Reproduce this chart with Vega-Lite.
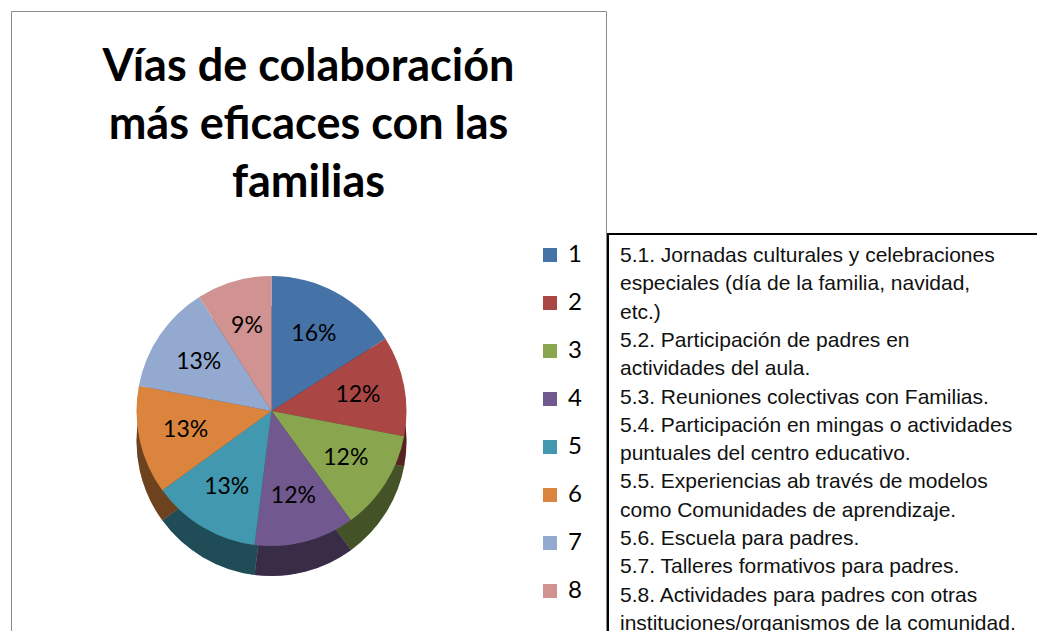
{
  "$schema": "https://vega.github.io/schema/vega-lite/v6.json",
  "padding": {"left": 10, "top": 10, "right": 0, "bottom": 0},
  "background": "white",
  "spacing": 0,
  "config": {"font": "Lato", "concat": {"spacing": 0}},
  "datasets": {
    "slices": [
      {"via": "1", "pct": 0.16},
      {"via": "2", "pct": 0.12},
      {"via": "3", "pct": 0.12},
      {"via": "4", "pct": 0.12},
      {"via": "5", "pct": 0.13},
      {"via": "6", "pct": 0.13},
      {"via": "7", "pct": 0.13},
      {"via": "8", "pct": 0.09}
    ],
    "lines": [
      {"n": 1, "col": "t", "texto": "5.1. Jornadas culturales y celebraciones"},
      {"n": 2, "col": "t", "texto": "especiales (día de la familia, navidad,"},
      {"n": 3, "col": "t", "texto": "etc.)"},
      {"n": 4, "col": "t", "texto": "5.2. Participación de padres en"},
      {"n": 5, "col": "t", "texto": "actividades del aula."},
      {"n": 6, "col": "t", "texto": "5.3. Reuniones colectivas con Familias."},
      {"n": 7, "col": "t", "texto": "5.4. Participación en mingas o actividades"},
      {"n": 8, "col": "t", "texto": "puntuales del centro educativo."},
      {"n": 9, "col": "t", "texto": "5.5. Experiencias ab través de modelos"},
      {"n": 10, "col": "t", "texto": "como Comunidades de aprendizaje."},
      {"n": 11, "col": "t", "texto": "5.6. Escuela para padres."},
      {"n": 12, "col": "t", "texto": "5.7. Talleres formativos para padres."},
      {"n": 13, "col": "t", "texto": "5.8. Actividades para padres con otras"},
      {"n": 14, "col": "t", "texto": "instituciones/organismos de la comunidad."}
    ]
  },
  "hconcat": [
    {
      "width": 595,
      "height": 800,
      "view": {"stroke": "#8c8c8c", "strokeWidth": 1},
      "title": {
        "text": ["Vías de colaboración", "más eficaces con las", "familias"],
        "font": "Lato",
        "fontSize": 45,
        "fontWeight": "bold",
        "lineHeight": 58,
        "anchor": "middle",
        "offset": -195,
        "color": "black"
      },
      "data": {"name": "slices"},
      "encoding": {
        "theta": {"field": "pct", "type": "quantitative", "stack": true},
        "order": {"field": "via", "type": "ordinal"}
      },
      "layer": [
        {
          "mark": {"type": "arc", "outerRadius": 135, "xOffset": -37, "yOffset": 30},
          "encoding": {
            "color": {"field": "via", "type": "nominal",
              "scale": {"domain": ["1","2","3","4","5","6","7","8"],
                "range": ["#4572A7","#AA4643","#89A54E","#71588F","#4198AF","#DB843D","#93A9CF","#D19392"]},
              "legend": {
                "orient": "none", "legendX": 527, "legendY": 232, "title": null,
                "symbolType": "square", "symbolSize": 196, "symbolStrokeWidth": 0,
                "labelFont": "Lato", "labelFontSize": 24, "labelColor": "black",
                "rowPadding": 24, "labelOffset": 6
              }
            }
          }
        },
        {
          "mark": {"type": "arc", "outerRadius": 135, "xOffset": -37, "yOffset": 30, "opacity": 0.5},
          "encoding": {"color": {"value": "black"}}
        },
        {
          "mark": {"type": "arc", "outerRadius": 135, "xOffset": -37},
          "encoding": {
            "color": {"field": "via", "type": "nominal"}
          }
        },
        {
          "mark": {"type": "text", "radius": 88, "xOffset": -37, "font": "Lato", "fontSize": 23, "color": "black"},
          "encoding": {"text": {"field": "pct", "type": "quantitative", "format": ".0%"}}
        }
      ]
    },
    {
      "vconcat": [
        {
          "width": 440,
          "height": 222,
          "view": {"stroke": null, "fill": "transparent"},
          "data": {"values": []},
          "mark": "text"
        },
        {
          "width": 440,
          "height": 412,
          "view": {"stroke": "black", "strokeWidth": 2},
          "data": {"name": "lines"},
          "mark": {"type": "text", "align": "left", "baseline": "middle", "font": "Liberation Sans", "fontSize": 21, "dx": 12, "color": "#111111"},
          "encoding": {
            "y": {"field": "n", "type": "ordinal", "axis": null, "scale": {"padding": 0.78}},
            "x": {"field": "col", "type": "nominal", "axis": null, "scale": {"align": 0, "padding": 0}},
            "text": {"field": "texto"}
          }
        }
      ]
    }
  ]
}
